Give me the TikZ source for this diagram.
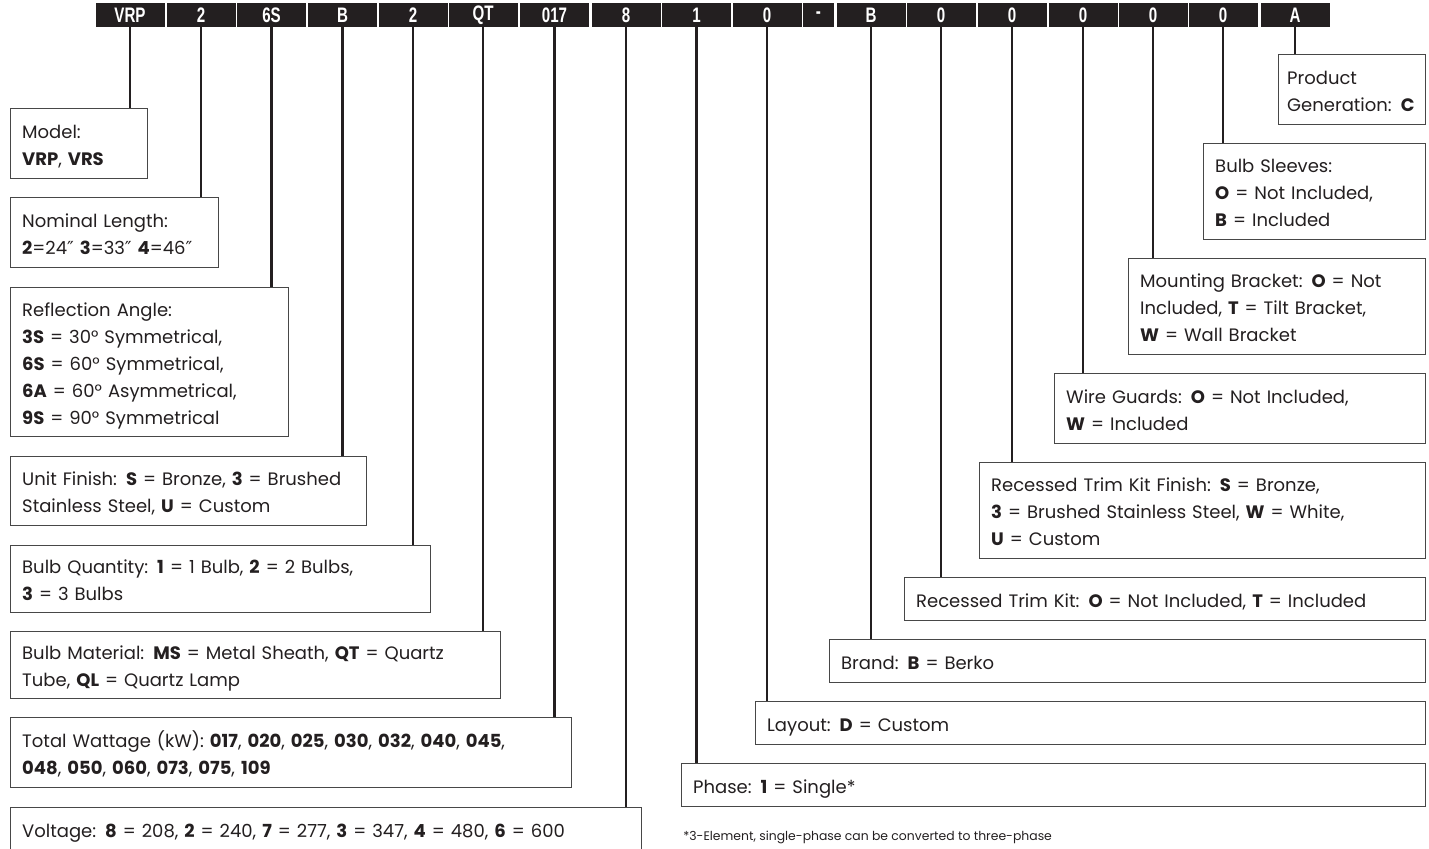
\documentclass[tikz,border=0pt]{standalone}
\usepackage{fontspec}
\setmainfont{Poppins}
\newfontfamily\barfont[FakeStretch=0.72]{Liberation Sans}
\newfontfamily\symfont{DejaVu Sans}
\definecolor{inkdark}{HTML}{231F20}
\definecolor{boxline}{HTML}{474747}
\def\boxstrut{\rule[-2.75pt]{0pt}{13.5pt}}
\def\inch{{\symfont ″}}

\begin{document}
\begin{tikzpicture}[x=0.5pt, y=-0.5pt,
  cell/.style={fill=inkdark, text=white, minimum width=34.5pt, minimum height=12pt, inner sep=0pt,
    font=\barfont\bfseries\fontsize{10.5}{12}\selectfont},
  keybox/.style={draw=boxline, line width=0.7pt, fill=white, anchor=north west, align=left,
    inner xsep=5.75pt, inner ysep=0pt, text=inkdark, font=\fontsize{9}{13.5}\selectfont,
    execute at begin node=\boxstrut, execute at end node=\boxstrut},
  lead/.style={draw=inkdark, line width=1.1pt}]
  \useasboundingbox (0,0) rectangle (1429,849);

  \node [cell] (cmodel)   at (130,15)   {VRP};
  \node [cell] (clength)  at (201,15)   {2};
  \node [cell] (cangle)   at (271.5,15) {6S};
  \node [cell] (cfinish)  at (342.5,15) {B};
  \node [cell] (cqty)     at (413,15)   {2};
  \node [cell] (cmat)     at (483,15)   {QT};
  \node [cell] (cwatt)    at (554.5,15) {017};
  \node [cell] (cvolt)    at (626,15)   {8};
  \node [cell] (cphase)   at (696.5,15) {1};
  \node [cell] (clayout)  at (767,15)   {0};
  \node [cell, minimum width=15.5pt] (cdash) at (818.5,15) {-};
  \node [cell] (cbrand)   at (871,15)   {B};
  \node [cell] (ctrim)    at (941,15)   {0};
  \node [cell] (ctrimfin) at (1012,15)  {0};
  \node [cell] (cguard)   at (1083,15)  {0};
  \node [cell] (cbracket) at (1153,15)  {0};
  \node [cell] (csleeve)  at (1223,15)  {0};
  \node [cell] (cgen)     at (1295,15)  {A};

  \node [keybox, text width=57pt, minimum height=35pt] (model) at (10,108)
    {Model:\\\textbf{VRP}, \textbf{VRS}};
  \node [keybox, text width=92.5pt, minimum height=35pt] (length) at (10,197)
    {Nominal Length:\\\textbf{2}=24\inch\ \textbf{3}=33\inch\ \textbf{4}=46\inch};
  \node [keybox, text width=127.5pt, minimum height=74.5pt] (angle) at (10,287)
    {Reflection Angle:\\\textbf{3S} = 30° Symmetrical,\\\textbf{6S} = 60° Symmetrical,\\\textbf{6A} = 60° Asymmetrical,\\\textbf{9S} = 90° Symmetrical};
  \node [keybox, text width=166.5pt, minimum height=34.5pt] (finish) at (10,456)
    {Unit Finish: \textbf{S} = Bronze, \textbf{3} = Brushed\\Stainless Steel, \textbf{U} = Custom};
  \node [keybox, text width=198.5pt, minimum height=33.5pt] (qty) at (10,545)
    {Bulb Quantity: \textbf{1} = 1 Bulb, \textbf{2} = 2 Bulbs,\\\textbf{3} = 3 Bulbs};
  \node [keybox, text width=233.5pt, minimum height=33.5pt] (mat) at (10,631)
    {Bulb Material: \textbf{MS} = Metal Sheath, \textbf{QT} = Quartz\\Tube, \textbf{QL} = Quartz Lamp};
  \node [keybox, text width=269pt, minimum height=35pt] (watt) at (10,717)
    {Total Wattage (kW): \textbf{017}, \textbf{020}, \textbf{025}, \textbf{030}, \textbf{032}, \textbf{040}, \textbf{045},\\\textbf{048}, \textbf{050}, \textbf{060}, \textbf{073}, \textbf{075}, \textbf{109}};
  \node [keybox, text width=304pt, minimum height=22pt] (volt) at (10,807)
    {Voltage: \textbf{8} = 208, \textbf{2} = 240, \textbf{7} = 277, \textbf{3} = 347, \textbf{4} = 480, \textbf{6} = 600};

  \node [keybox, text width=360.5pt, minimum height=21.5pt] (phase) at (681,763)
    {Phase: \textbf{1} = Single*};
  \node [keybox, text width=323.5pt, minimum height=21.5pt] (layout) at (755,701)
    {Layout: \textbf{D} = Custom};
  \node [keybox, text width=286.5pt, minimum height=21.5pt] (brand) at (829,639)
    {Brand: \textbf{B} = Berko};
  \node [keybox, text width=249pt, minimum height=21.5pt] (trim) at (904,577)
    {Recessed Trim Kit: \textbf{O} = Not Included, \textbf{T} = Included};
  \node [keybox, text width=211.5pt, minimum height=48pt] (trimfin) at (979,462)
    {Recessed Trim Kit Finish: \textbf{S} = Bronze,\\\textbf{3} = Brushed Stainless Steel, \textbf{W} = White,\\\textbf{U} = Custom};
  \node [keybox, text width=174pt, minimum height=35pt] (guard) at (1054,373)
    {Wire Guards: \textbf{O} = Not Included,\\\textbf{W} = Included};
  \node [keybox, text width=137pt, minimum height=48pt] (bracket) at (1128,258)
    {Mounting Bracket: \textbf{O} = Not\\Included, \textbf{T} = Tilt Bracket,\\\textbf{W} = Wall Bracket};
  \node [keybox, text width=99.5pt, minimum height=48pt] (sleeve) at (1203,143)
    {Bulb Sleeves:\\\textbf{O} = Not Included,\\\textbf{B} = Included};
  \node [keybox, text width=65pt, inner xsep=4.25pt, minimum height=35pt] (gen) at (1278,54)
    {Product\\Generation: \textbf{C}};

  \draw [lead] (cmodel.south) -- (cmodel.south |- model.north);
  \draw [lead] (clength.south) -- (clength.south |- length.north);
  \draw [lead] (cangle.south) -- (cangle.south |- angle.north);
  \draw [lead] (cfinish.south) -- (cfinish.south |- finish.north);
  \draw [lead] (cqty.south) -- (cqty.south |- qty.north);
  \draw [lead] (cmat.south) -- (cmat.south |- mat.north);
  \draw [lead] (cwatt.south) -- (cwatt.south |- watt.north);
  \draw [lead] (cvolt.south) -- (cvolt.south |- volt.north);
  \draw [lead] (cphase.south) -- (cphase.south |- phase.north);
  \draw [lead] (clayout.south) -- (clayout.south |- layout.north);
  \draw [lead] (cbrand.south) -- (cbrand.south |- brand.north);
  \draw [lead] (ctrim.south) -- (ctrim.south |- trim.north);
  \draw [lead] (ctrimfin.south) -- (ctrimfin.south |- trimfin.north);
  \draw [lead] (cguard.south) -- (cguard.south |- guard.north);
  \draw [lead] (cbracket.south) -- (cbracket.south |- bracket.north);
  \draw [lead] (csleeve.south) -- (csleeve.south |- sleeve.north);
  \draw [lead] (cgen.south) -- (cgen.south |- gen.north);

  \node [anchor=base west, text=inkdark, inner sep=0pt, font=\fontsize{6.2}{7}\selectfont] (note) at (683,840)
    {*3-Element, single-phase can be converted to three-phase};
\end{tikzpicture}
\end{document}
